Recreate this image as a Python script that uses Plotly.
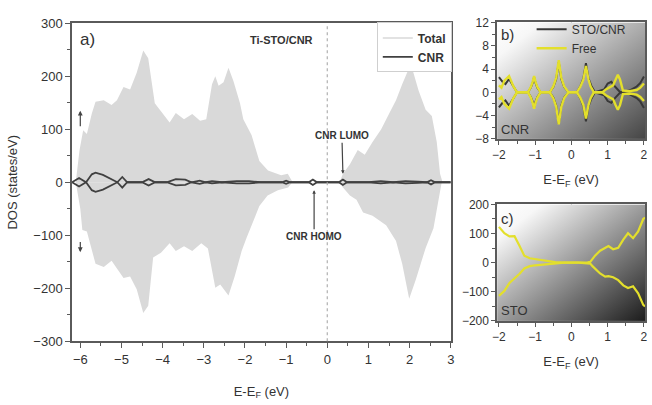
import base64
import plotly.graph_objects as go

# ---------------- Panel a: Ti-STO/CNR total DOS and CNR projected DOS ----------------
tot_E_up = [-6.2, -6.11, -6.02, -5.93, -5.84, -5.72, -5.63, -5.43, -5.24, -5.11, -4.95, -4.79,
            -4.63, -4.47, -4.35, -4.19, -4.04, -3.83, -3.68, -3.48, -3.28, -3.09, -2.94, -2.80,
            -2.72, -2.64, -2.52, -2.40, -2.28, -2.12, -2.04, -1.84, -1.65, -1.44, -1.12, -0.96,
            -0.84, 0.30, 0.38, 0.55, 0.74, 0.91, 1.10, 1.31, 1.51, 1.67, 1.82, 1.99, 2.07, 2.22,
            2.39, 2.54, 2.66, 2.74, 2.80, 3.0]
tot_up = [0, 0, 60, 98, 91, 130, 152, 155, 146, 155, 180, 175,
          207, 249, 234, 149, 134, 113, 131, 119, 129, 116, 119, 185,
          200, 182, 189, 216, 191, 149, 119, 89, 40, 22, 13, 16,
          0, 0, 16, 34, 61, 52, 76, 100, 131, 155, 185, 216, 213, 173,
          137, 125, 76, 16, 0, 0]

tot_E_dn = [-6.2, -6.11, -6.0, -5.95, -5.84, -5.63, -5.43, -5.24, -4.95, -4.79, -4.63, -4.47,
            -4.35, -4.23, -4.04, -3.83, -3.68, -3.48, -3.28, -3.06, -2.90, -2.72, -2.60, -2.40,
            -2.25, -2.08, -1.96, -1.84, -1.65, -1.45, -1.2, -0.95, -0.85, 0.30, 0.38, 0.55,
            0.71, 0.87, 1.10, 1.43, 1.67, 1.82, 1.99, 2.15, 2.39, 2.58, 2.70, 2.78, 3.0]
tot_dn = [0, 0, -50, -90, -93, -154, -160, -148, -181, -178, -202, -247,
          -233, -142, -133, -115, -130, -121, -130, -115, -125, -199, -193, -214,
          -178, -130, -105, -81, -45, -25, -15, -10, 0, 0, -10, -25,
          -33, -57, -63, -81, -111, -154, -220, -184, -124, -87, -33, 0, 0]

cnr_E = [-6.2, -6.03, -5.86, -5.72, -5.63, -5.45, -5.1, -4.98, -4.86, -4.5, -4.34, -4.18,
         -3.9, -3.68, -3.45, -3.3, -3.1, -2.95, -2.8, -2.56, -2.2, -1.9, -1.6, -1.1,
         -1.0, -0.9, -0.45, -0.35, -0.25, 0.28, 0.38, 0.48, 1.0, 1.3, 1.6, 1.9, 2.2,
         2.42, 2.52, 2.62, 3.0]
cnr_up = [0, 8, 0, 15, 18, 14, 0, 10, 0, 0, 6, 0,
          0, 6, 5, 0, 3, 0, 2, 0, 2, 2, 0, 0,
          3, 0, 0, 5, 0, 0, 5, 0, 0, 2, 0, 2, 1,
          0, 4, 0, 0]
cnr_dn = [0, -8, 0, -15, -18, -14, 0, -10, 0, 0, -6, 0,
          0, -6, -5, 0, -3, 0, -2, 0, -2, -2, 0, 0,
          -3, 0, 0, -5, 0, 0, -5, 0, 0, -2, 0, -2, -1,
          0, -4, 0, 0]

# ---------------- Panel b: CNR DOS, on STO vs free ----------------
free_E = [-2.0, -1.93, -1.85, -1.72, -1.6, -1.5, -1.2, -1.12, -1.07, -1.03, -0.99, -0.94,
          -0.85, -0.6, -0.5, -0.42, -0.35, -0.28, -0.2, -0.08, 0.15, 0.25, 0.33, 0.4,
          0.47, 0.53, 0.62, 0.85, 0.95, 1.05, 1.15, 1.22, 1.28, 1.34, 1.42, 1.6, 1.8,
          1.9, 2.0]
free_up = [1.2, 0.8, 2.0, 2.8, 1.0, 0, 0, 0.9, 1.8, 2.8, 1.8, 0.9,
           0, 0, 1.0, 2.5, 5.5, 2.5, 1.0, 0, 0, 1.0, 2.2, 4.5,
           2.2, 1.0, 0, 0, 0.5, 0.8, 1.2, 2.2, 3.0, 2.2, 0.3, 0.2, 0.4,
           0.8, 1.5]
free_dn = [-1.2, -0.8, -2.0, -2.8, -1.0, 0, 0, -0.9, -1.8, -2.8, -1.8, -0.9,
           0, 0, -1.0, -2.5, -5.5, -2.5, -1.0, 0, 0, -1.0, -2.2, -4.5,
           -2.2, -1.0, 0, 0, -0.5, -0.8, -1.2, -2.2, -3.0, -2.2, -0.3, -0.2, -0.4,
           -0.8, -1.5]

sto_cnr_E = [-2.0, -1.9, -1.82, -1.72, -1.6, -1.5, -1.2, -1.12, -1.07, -1.03, -0.99, -0.94,
             -0.85, -0.6, -0.5, -0.42, -0.35, -0.28, -0.2, -0.08, 0.15, 0.25, 0.33, 0.4,
             0.47, 0.55, 0.65, 0.75, 0.9, 1.0, 1.1, 1.2, 1.35, 1.6, 1.8, 1.9, 2.0]
sto_cnr_up = [2.6, 1.8, 1.4, 2.3, 1.0, 0, 0, 0.8, 1.6, 2.6, 1.6, 0.8,
              0, 0, 0.9, 2.3, 5.2, 2.3, 0.9, 0, 0, 1.1, 2.4, 5.0,
              2.4, 1.1, 0, 0.2, 0.5, 1.5, 1.8, 1.0, 0, 0.3, 1.0, 1.6, 2.7]
sto_cnr_dn = [-2.6, -1.8, -1.4, -2.3, -1.0, 0, 0, -0.8, -1.6, -2.6, -1.6, -0.8,
              0, 0, -0.9, -2.3, -5.4, -2.3, -0.9, 0, 0, -1.1, -2.4, -5.0,
              -2.4, -1.1, 0, -0.2, -0.5, -1.5, -1.8, -1.0, 0, -0.3, -1.0, -1.6, -2.7]

# ---------------- Panel c: STO DOS ----------------
sto_E = [-2.0, -1.92, -1.85, -1.71, -1.57, -1.43, -1.30, -1.15, -1.0, -0.8, -0.6, -0.45,
         -0.2, 0.2, 0.45, 0.52, 0.58, 0.65, 0.79, 0.93, 1.02, 1.15, 1.29, 1.43, 1.56,
         1.70, 1.84, 1.98, 2.03]
sto_up = [123, 110, 101, 90, 91, 57, 24, 15, 12, 9, 6, 2,
          0, 0, 1, 3, 12, 24, 41, 51, 57, 46, 51, 79, 101,
          84, 107, 150, 155]
sto_dn = [-114, -105, -97, -70, -55, -38, -20, -12, -9, -7, -5, -2,
          0, 0, -1, -3, -12, -20, -37, -48, -46, -50, -60, -78, -87,
          -81, -105, -145, -150]

main_xticks = [-6, -5, -4, -3, -2, -1, 0, 1, 2, 3]
main_yticks = [-300, -200, -100, 0, 100, 200, 300]
b_yticks = [-8, -4, 0, 4, 8, 12]
c_yticks = [-200, -100, 0, 100, 200]
bc_xticks = [-2, -1, 0, 1, 2]

FONT = "Liberation Sans, Arial, sans-serif"
TXT = "#333333"
AX = "#5a5a5a"
TOTAL_C = "#d9d9d9"
CNR_C = "#404040"
YEL = "#e3df2c"
DARK = "#383838"

fig = go.Figure()

# Panel a
fig.add_trace(go.Scatter(x=tot_E_up, y=tot_up, mode="lines", fill="tozeroy",
                         fillcolor=TOTAL_C, line=dict(width=0, color=TOTAL_C),
                         showlegend=False, xaxis="x", yaxis="y"))
fig.add_trace(go.Scatter(x=tot_E_dn, y=tot_dn, mode="lines", fill="tozeroy",
                         fillcolor=TOTAL_C, line=dict(width=0, color=TOTAL_C),
                         showlegend=False, xaxis="x", yaxis="y"))
fig.add_trace(go.Scatter(x=[None], y=[None], mode="lines", name="Total",
                         line=dict(color="#e2e2e2", width=2), legend="legend",
                         xaxis="x", yaxis="y"))
fig.add_trace(go.Scatter(x=cnr_E, y=cnr_up, mode="lines", name="CNR",
                         line=dict(color=CNR_C, width=1.8), legend="legend",
                         xaxis="x", yaxis="y"))
fig.add_trace(go.Scatter(x=cnr_E, y=cnr_dn, mode="lines", name="CNR",
                         line=dict(color=CNR_C, width=1.8), showlegend=False,
                         xaxis="x", yaxis="y"))

# Panel b
fig.add_trace(go.Scatter(x=sto_cnr_E, y=sto_cnr_up, mode="lines", name="STO/CNR",
                         line=dict(color=DARK, width=2), legend="legend2",
                         xaxis="x2", yaxis="y2"))
fig.add_trace(go.Scatter(x=sto_cnr_E, y=sto_cnr_dn, mode="lines", showlegend=False,
                         line=dict(color=DARK, width=2), xaxis="x2", yaxis="y2"))
fig.add_trace(go.Scatter(x=free_E, y=free_up, mode="lines", name="Free",
                         line=dict(color=YEL, width=2.4), legend="legend2",
                         xaxis="x2", yaxis="y2"))
fig.add_trace(go.Scatter(x=free_E, y=free_dn, mode="lines", showlegend=False,
                         line=dict(color=YEL, width=2.4), xaxis="x2", yaxis="y2"))

# Panel c
fig.add_trace(go.Scatter(x=sto_E, y=sto_up, mode="lines", showlegend=False,
                         line=dict(color=YEL, width=2.2), xaxis="x3", yaxis="y3"))
fig.add_trace(go.Scatter(x=sto_E, y=sto_dn, mode="lines", showlegend=False,
                         line=dict(color=YEL, width=2.2), xaxis="x3", yaxis="y3"))

W, H = 652, 405
def px_x(p):
    return p / W
def px_y(p):
    return 1 - p / H

dom_a_x = [px_x(68), px_x(452)]
dom_a_y = [px_y(347), px_y(17)]
dom_b_x = [px_x(499), px_x(649)]
dom_b_y = [px_y(137), px_y(16)]
dom_c_x = dom_b_x
dom_c_y = [px_y(326), px_y(205)]

rng_a_x = [-6.2, 3.0]
rng_a_y = [-300, 300]
rng_bc_x = [-2.05, 2.03]
rng_b_y = [-8, 12]
rng_c_y = [-200, 200]

tickfont_main = dict(family=FONT, size=13, color=TXT)
tickfont_small = dict(family=FONT, size=12, color=TXT)
titlefont_main = dict(family=FONT, size=13, color=TXT)


def base_axis(domain, rng, anchor, tickvals, tickfont, dtick_minor, ticklen=5):
    return dict(domain=domain, range=rng, anchor=anchor, tickvals=tickvals,
                ticks="outside", ticklen=ticklen, tickwidth=1.2, tickcolor=AX,
                minor=dict(ticks="outside", dtick=dtick_minor, ticklen=3,
                           tickwidth=1, tickcolor=AX, showgrid=False),
                showline=True, linecolor=AX, linewidth=1.6, mirror=True,
                showgrid=False, zeroline=False, tickfont=tickfont)


def mirror_axis(over, anchor, side, rng, tickvals, dtick_minor, ticklen=4):
    return dict(overlaying=over, anchor=anchor, side=side, range=rng, tickvals=tickvals,
                ticks="inside", ticklen=ticklen, tickwidth=1.2, tickcolor=AX,
                minor=dict(ticks="inside", dtick=dtick_minor, ticklen=2.5,
                           tickwidth=1, tickcolor=AX, showgrid=False),
                showticklabels=False, showline=False, showgrid=False, zeroline=False)


xa = base_axis(dom_a_x, rng_a_x, "y", main_xticks, tickfont_main, 0.5)
xa["title"] = dict(text="E-E<sub>F</sub> (eV)", font=titlefont_main, standoff=21)
ya = base_axis(dom_a_y, rng_a_y, "x", main_yticks, tickfont_main, 50)
ya["title"] = dict(text="DOS (states/eV)", font=titlefont_main, standoff=13)

xb = base_axis(dom_b_x, rng_bc_x, "y2", bc_xticks, tickfont_small, 0.5, 4)
xb["title"] = dict(text="E-E<sub>F</sub> (eV)", font=titlefont_main, standoff=14)
yb = base_axis(dom_b_y, rng_b_y, "x2", b_yticks, tickfont_small, 2, 4)

xc = base_axis(dom_c_x, rng_bc_x, "y3", bc_xticks, tickfont_small, 0.5, 4)
xc["title"] = dict(text="E-E<sub>F</sub> (eV)", font=titlefont_main, standoff=14)
yc = base_axis(dom_c_y, rng_c_y, "x3", c_yticks, tickfont_small, 50, 4)

# gradient backgrounds for the insets
def grad_svg(end_color, mid_stop):
    svg = ("<svg xmlns='http://www.w3.org/2000/svg' width='100' height='100' "
           "viewBox='0 0 100 100' preserveAspectRatio='none'><defs>"
           "<linearGradient id='g' x1='0' y1='0' x2='1' y2='1'>"
           "<stop offset='0' stop-color='#ffffff'/>"
           f"<stop offset='0.15' stop-color='{mid_stop}'/>"
           f"<stop offset='1' stop-color='{end_color}'/>"
           "</linearGradient></defs>"
           "<rect width='100' height='100' fill='url(#g)'/></svg>")
    return "data:image/svg+xml;base64," + base64.b64encode(svg.encode()).decode()

images = [
    dict(source=grad_svg("#454545", "#f7f7f7"), xref="x2 domain", yref="y2 domain",
         x=0, y=1, sizex=1, sizey=1, sizing="stretch", xanchor="left", yanchor="top",
         layer="below"),
    dict(source=grad_svg("#1c1c1c", "#f7f7f7"), xref="x3 domain", yref="y3 domain",
         x=0, y=1, sizex=1, sizey=1, sizing="stretch", xanchor="left", yanchor="top",
         layer="below"),
]

shapes = [
    dict(type="line", xref="x", yref="y domain", x0=0, x1=0, y0=0, y1=1,
         line=dict(color="#b0b0b0", width=1.2, dash="dot"), layer="above"),
    dict(type="line", xref="x2", yref="y2 domain", x0=0, x1=0, y0=0, y1=1,
         line=dict(color="#8a8a8a", width=0.8), layer="below"),
    dict(type="line", xref="x3", yref="y3 domain", x0=0, x1=0, y0=0, y1=1,
         line=dict(color="#8a8a8a", width=0.8), layer="below"),
]

annotations = [
    dict(text="a)", x=-6.05, y=270, xref="x", yref="y", showarrow=False, xanchor="left",
         font=dict(family=FONT, size=17, color=TXT)),
    dict(text="<b>Ti-STO/CNR</b>", x=-1.1, y=268, xref="x", yref="y", showarrow=False,
         font=dict(family=FONT, size=11, color=TXT)),
    dict(text="<b>CNR LUMO</b>", x=0.38, y=16, xref="x", yref="y", ax=-1, ay=-38,
         showarrow=True, arrowhead=2, arrowsize=0.6, arrowwidth=1.2, arrowcolor="#444",
         font=dict(family=FONT, size=10, color=TXT)),
    dict(text="<b>CNR HOMO</b>", x=-0.32, y=-15, xref="x", yref="y", ax=0, ay=46,
         showarrow=True, arrowhead=2, arrowsize=0.6, arrowwidth=1.2, arrowcolor="#444",
         font=dict(family=FONT, size=10, color=TXT)),
    dict(text="", x=-6.0, y=135, ax=-6.0, ay=103, xref="x", yref="y", axref="x", ayref="y",
         showarrow=True, arrowhead=2, arrowsize=0.8, arrowwidth=1.2, arrowcolor="#444"),
    dict(text="", x=-6.0, y=-132, ax=-6.0, ay=-110, xref="x", yref="y", axref="x", ayref="y",
         showarrow=True, arrowhead=2, arrowsize=0.8, arrowwidth=1.2, arrowcolor="#444"),
    dict(text="b)", x=-2.0, y=10.0, xref="x2", yref="y2", showarrow=False, xanchor="left",
         font=dict(family=FONT, size=15, color=TXT)),
    dict(text="CNR", x=-2.0, y=-6.3, xref="x2", yref="y2", showarrow=False, xanchor="left",
         font=dict(family=FONT, size=13, color=TXT)),
    dict(text="c)", x=-2.0, y=150, xref="x3", yref="y3", showarrow=False, xanchor="left",
         font=dict(family=FONT, size=15, color=TXT)),
    dict(text="STO", x=-2.0, y=-164, xref="x3", yref="y3", showarrow=False, xanchor="left",
         font=dict(family=FONT, size=13, color=TXT)),
]

fig.update_layout(
    width=W, height=H, margin=dict(l=0, r=0, t=0, b=0),
    paper_bgcolor="white", plot_bgcolor="rgba(0,0,0,0)",
    font=dict(family=FONT, color=TXT),
    xaxis=xa, yaxis=ya, xaxis2=xb, yaxis2=yb, xaxis3=xc, yaxis3=yc,
    xaxis4=mirror_axis("x", "y", "top", rng_a_x, main_xticks, 0.5),
    yaxis4=mirror_axis("y", "x", "right", rng_a_y, main_yticks, 50),
    xaxis5=mirror_axis("x2", "y2", "top", rng_bc_x, bc_xticks, 0.5, 3),
    yaxis5=mirror_axis("y2", "x2", "right", rng_b_y, b_yticks, 2, 3),
    xaxis6=mirror_axis("x3", "y3", "top", rng_bc_x, bc_xticks, 0.5, 3),
    yaxis6=mirror_axis("y3", "x3", "right", rng_c_y, c_yticks, 50, 3),
    images=images, shapes=shapes, annotations=annotations,
    legend=dict(x=px_x(377), y=px_y(16), xanchor="left", yanchor="top",
                bgcolor="white", bordercolor="#cfcfcf", borderwidth=1,
                font=dict(family=FONT, size=12, color=TXT, weight="bold"),
                itemwidth=30, tracegroupgap=0),
    legend2=dict(x=px_x(534), y=px_y(8), xanchor="left", yanchor="top",
                 bgcolor="rgba(0,0,0,0)", borderwidth=0,
                 font=dict(family=FONT, size=12, color=TXT),
                 itemwidth=30, tracegroupgap=0),
)

fig.write_html("out.html")
